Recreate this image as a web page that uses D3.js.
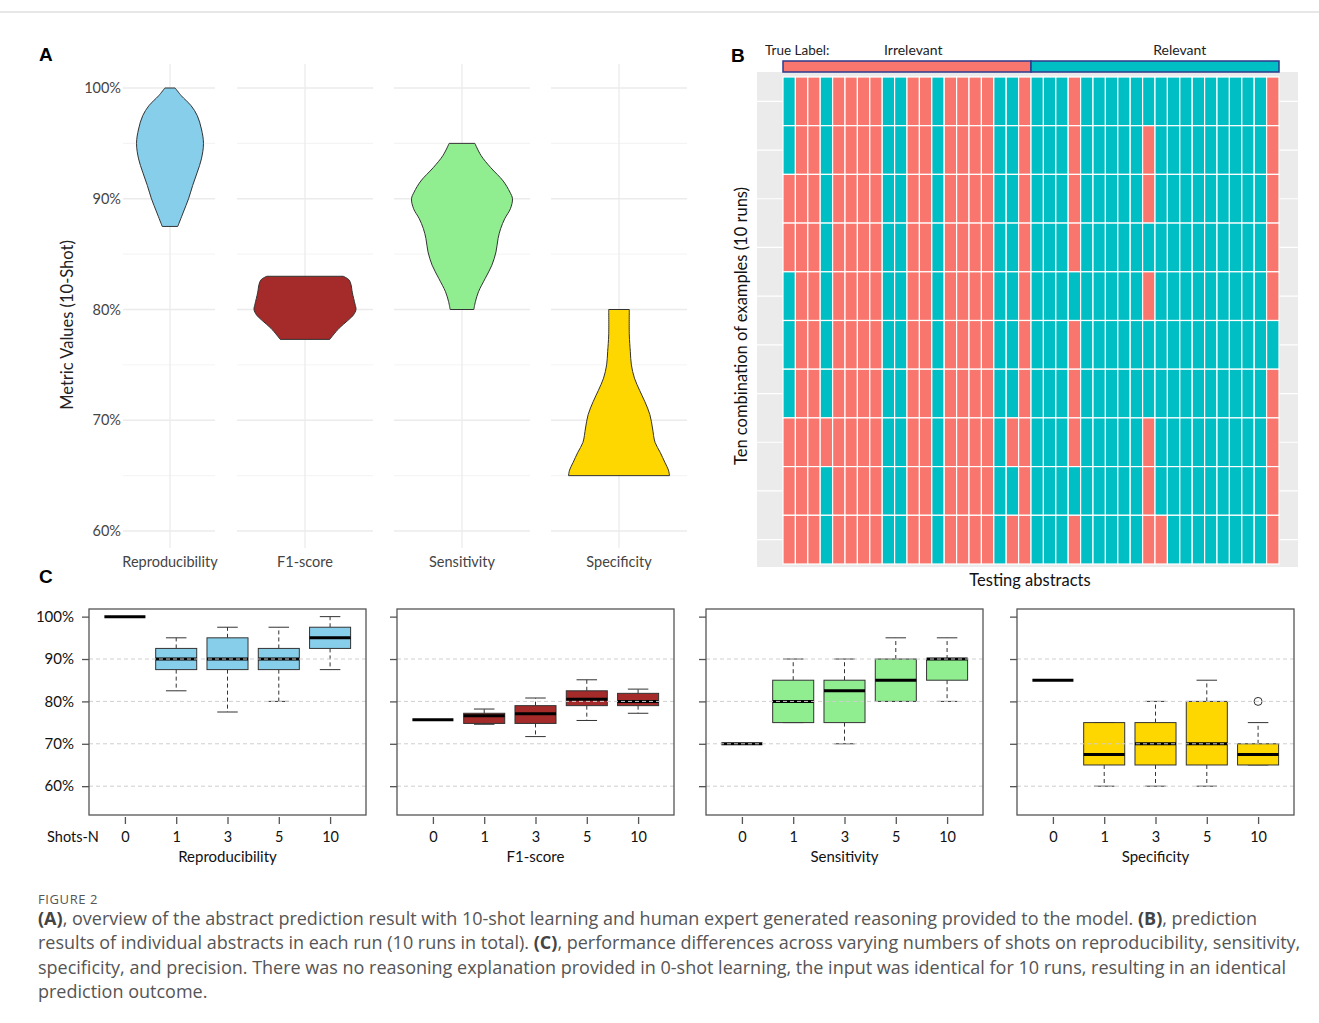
<!DOCTYPE html>
<html>
<head>
<meta charset="utf-8">
<script src="https://cdn.jsdelivr.net/npm/d3@7"></script>
<style>
body { margin: 0; background: #fff; }
svg { display: block; }
</style>
</head>
<body>
<svg width="1319" height="1023"></svg>
<script>
// ---- panel A : violin outlines (metric level, relative density)
var metrics = ["Reproducibility", "F1-score", "Sensitivity", "Specificity"];
var reproLevels = [100, 99.3, 98.4, 97.5, 96.3, 95, 93.6, 92.4, 91.2, 90, 88.8, 87.5];
var reproDensity = [0.10, 0.22, 0.41, 0.53, 0.61, 0.65, 0.61, 0.53, 0.44, 0.36, 0.26, 0.15];
var f1Levels = [83, 82.7, 82.3, 81.5, 80.5, 80, 79.5, 79, 78.3, 77.3];
var f1Density = [0.74, 0.85, 0.89, 0.92, 0.97, 0.99, 0.94, 0.83, 0.66, 0.48];
var sensLevels = [95, 93.9, 92.8, 91.6, 90.6, 90, 89.1, 88.2, 87.3, 86.4, 85.2, 84, 82.8, 81.6, 80.7, 80];
var sensDensity = [0.25, 0.37, 0.56, 0.80, 0.93, 0.98, 0.94, 0.83, 0.75, 0.70, 0.66, 0.58, 0.45, 0.32, 0.26, 0.23];
var specLevels = [80, 77.7, 76.2, 75, 73.8, 72.7, 71.7, 70.5, 69.3, 68, 67.1, 66.2, 65.5, 65];
var specDensity = [0.20, 0.20, 0.22, 0.24, 0.30, 0.40, 0.50, 0.60, 0.65, 0.70, 0.80, 0.89, 0.96, 0.98];
var violinTicks = [60, 70, 80, 90, 100];

// ---- panel B : predicted label per run (rows) and testing abstract (columns), 1 = Relevant
var trueLabels = ["Irrelevant", "Relevant"];
var abstractsPerLabel = [20, 20];
var runPredictions = [
  "1001000011001000011011101111111111111110",
  "1001000011001000011011101111101111111110",
  "0001000011001000011011101111101111111110",
  "0001000011001000011011101111111111111110",
  "1001000011001000011011111111101111111110",
  "1001000011001000011011101111111111111111",
  "1001000011001000011011101111111111111110",
  "0000000011001000010011101111101111111110",
  "0001000011001000011011111111101111111110",
  "0001000011001000010011101111100111111110"
];

// ---- panel C : box statistics per shot count [lower whisker, Q1, median, Q3, upper whisker]
var shots = ["0", "1", "3", "5", "10"];
var reproBox = [[100, 100, 100, 100, 100], [82.5, 87.5, 90, 92.5, 95], [77.5, 87.5, 90, 95, 97.5], [80, 87.5, 90, 92.5, 97.5], [87.5, 92.5, 95, 97.5, 100]];
var f1Box = [[75.7, 75.7, 75.7, 75.7, 75.7], [74.6, 74.8, 76.6, 77.2, 78.2], [71.7, 74.8, 77.1, 79, 80.8], [75.5, 79, 80.5, 82.5, 85.1], [77.2, 79, 80, 81.9, 82.9]];
var sensBox = [[70, 70, 70, 70, 70], [75, 75, 80, 85, 90], [70, 75, 82.5, 85, 90], [80, 80, 85, 90, 95], [80, 85, 90, 90, 95]];
var specBox = [[85, 85, 85, 85, 85], [60, 65, 67.5, 75, 75], [60, 65, 70, 75, 80], [60, 65, 70, 80, 85], [65, 65, 67.5, 70, 75]];
var specOutliers = [["10", 80]];
var boxTicks = [60, 70, 80, 90, 100];
var boxGrid = [60, 70, 80, 90];

var fills = {"Reproducibility": "#87ceeb", "F1-score": "#a52a2a", "Sensitivity": "#90ee90", "Specificity": "#ffd700"};
var labelFont = "Lato, 'Open Sans', sans-serif";

var svg = d3.select("svg");

svg.append("rect").attr("width", 1319).attr("height", 1023).attr("fill", "#fff");
svg.append("line").attr("x1", 0).attr("x2", 1319).attr("y1", 12).attr("y2", 12)
    .attr("stroke", "#d0d0d0");

// ================= panel A =================
var ya = d3.scaleLinear().domain([60, 100]).range([531, 88]);
var xa = d3.scaleOrdinal().domain(metrics).range([170, 305, 462, 619]);
var wa = d3.scaleLinear().domain([0, 1]).range([0, 51.5]);
var facetHalf = 68;

var gA = svg.append("g");

// horizontal grid, one segment per facet
metrics.forEach(function(m, i) {
    var left = i == 0 ? 123 : xa(m) - facetHalf,
        right = xa(m) + facetHalf - (i == 0 ? 23 : 0);
    d3.range(65, 100, 10).forEach(function(v) {
        gA.append("line").attr("x1", left).attr("x2", right)
            .attr("y1", ya(v)).attr("y2", ya(v))
            .attr("stroke", "#f0f0f0").attr("stroke-width", 0.8);
    });
    violinTicks.forEach(function(v) {
        gA.append("line").attr("x1", left).attr("x2", right)
            .attr("y1", ya(v)).attr("y2", ya(v))
            .attr("stroke", "#ebebeb").attr("stroke-width", 1.3);
    });
    gA.append("line").attr("x1", xa(m)).attr("x2", xa(m))
        .attr("y1", 64).attr("y2", 548)
        .attr("stroke", "#ebebeb").attr("stroke-width", 1.3);
});

var violins = [
    {metric: "Reproducibility", levels: reproLevels, density: reproDensity},
    {metric: "F1-score", levels: f1Levels, density: f1Density},
    {metric: "Sensitivity", levels: sensLevels, density: sensDensity},
    {metric: "Specificity", levels: specLevels, density: specDensity}
];

violins.forEach(function(v) {
    var pts = v.levels.map(function(l, i) { return {level: l, d: v.density[i]}; });
    var area = d3.area()
        .y(function(d) { return ya(d.level); })
        .x0(function(d) { return xa(v.metric) - wa(d.d); })
        .x1(function(d) { return xa(v.metric) + wa(d.d); })
        .curve(d3.curveCatmullRom);
    gA.append("path").datum(pts)
        .attr("d", area)
        .attr("fill", fills[v.metric])
        .attr("stroke", "#333")
        .attr("stroke-width", 1);
});

var axA = gA.append("g")
    .attr("transform", "translate(121,0)")
    .call(d3.axisLeft(ya).tickValues(violinTicks).tickSize(0).tickPadding(0)
        .tickFormat(function(d) { return d + "%"; }));
axA.select(".domain").remove();
axA.selectAll("text").style("font-family", labelFont).style("font-size", "14.5px").attr("fill", "#444");

gA.selectAll(".xlabA")
    .data(metrics)
    .enter().append("text")
        .attr("x", function(d) { return xa(d); })
        .attr("y", 567)
        .attr("text-anchor", "middle")
        .style("font-family", labelFont).style("font-size", "14.5px")
        .attr("fill", "#444")
        .text(function(d) { return d; });

gA.append("text")
    .attr("transform", "translate(73,325) rotate(-90)")
    .attr("text-anchor", "middle")
    .style("font-family", labelFont).style("font-size", "16.5px")
    .attr("fill", "#222")
    .text("Metric Values (10-Shot)");

svg.append("text").attr("x", 39).attr("y", 61)
    .style("font-family", "Liberation Sans, Arial, sans-serif").style("font-size", "19px")
    .style("font-weight", "bold").text("A");

// ================= panel B =================
var nCols = d3.sum(abstractsPerLabel);
var xb = d3.scaleBand().domain(d3.range(nCols)).range([783, 1279]);
var yb = d3.scaleBand().domain(d3.range(runPredictions.length)).range([77, 564]);
var predColor = d3.scaleOrdinal().domain(["0", "1"]).range(["#f8766d", "#00bfc4"]);

var gB = svg.append("g");
gB.append("rect").attr("x", 757).attr("y", 72).attr("width", 541).attr("height", 495)
    .attr("fill", "#ebebeb");
runPredictions.forEach(function(r, i) {
    gB.append("line").attr("x1", 757).attr("x2", 1298)
        .attr("y1", yb(i) + yb.bandwidth() / 2).attr("y2", yb(i) + yb.bandwidth() / 2)
        .attr("stroke", "#fff").attr("stroke-width", 1.2);
});

runPredictions.forEach(function(r, i) {
    gB.selectAll(".row" + i)
        .data(r.split(""))
        .enter().append("rect")
            .attr("x", function(d, j) { return xb(j); })
            .attr("y", yb(i))
            .attr("width", xb.bandwidth())
            .attr("height", yb.bandwidth())
            .attr("fill", function(d) { return predColor(d); })
            .attr("stroke", "#fff")
            .attr("stroke-width", 1.2);
});

// true label strip
var start = 0;
trueLabels.forEach(function(lab, i) {
    var x0 = xb(start), x1 = xb(start + abstractsPerLabel[i] - 1) + xb.bandwidth();
    gB.append("rect").attr("x", x0).attr("y", 61).attr("width", x1 - x0).attr("height", 11)
        .attr("fill", predColor(String(i)))
        .attr("stroke", "#2e3a8c").attr("stroke-width", 1.5);
    start += abstractsPerLabel[i];
});
gB.append("text").attr("x", 765).attr("y", 55)
    .style("font-family", labelFont).style("font-size", "13.5px").attr("fill", "#222")
    .text("True Label:");
gB.append("text").attr("x", xb(10) + xb.bandwidth() / 2).attr("y", 55)
    .attr("text-anchor", "middle")
    .style("font-family", labelFont).style("font-size", "14px").attr("fill", "#222")
    .text(trueLabels[0]);
gB.append("text").attr("x", xb(31) + xb.bandwidth()).attr("y", 55)
    .attr("text-anchor", "middle")
    .style("font-family", labelFont).style("font-size", "14px").attr("fill", "#222")
    .text(trueLabels[1]);

gB.append("text")
    .attr("transform", "translate(747,326) rotate(-90)")
    .attr("text-anchor", "middle")
    .style("font-family", labelFont).style("font-size", "16.5px").attr("fill", "#111")
    .text("Ten combination of examples (10 runs)");
gB.append("text").attr("x", 1030).attr("y", 586)
    .attr("text-anchor", "middle")
    .style("font-family", labelFont).style("font-size", "16.5px").attr("fill", "#111")
    .text("Testing abstracts");

svg.append("text").attr("x", 731).attr("y", 62)
    .style("font-family", "Liberation Sans, Arial, sans-serif").style("font-size", "19px")
    .style("font-weight", "bold").text("B");

// ================= panel C =================
svg.append("text").attr("x", 39).attr("y", 583)
    .style("font-family", "Liberation Sans, Arial, sans-serif").style("font-size", "19px")
    .style("font-weight", "bold").text("C");

var boxPanels = [
    {metric: "Reproducibility", stats: reproBox, outliers: [], left: 89},
    {metric: "F1-score", stats: f1Box, outliers: [], left: 397},
    {metric: "Sensitivity", stats: sensBox, outliers: [], left: 706},
    {metric: "Specificity", stats: specBox, outliers: specOutliers, left: 1017}
];
var panelW = 277, panelTop = 609, panelBottom = 815;
var yc = d3.scaleLinear().domain([53.2, 101.8]).range([panelBottom, panelTop]);

boxPanels.forEach(function(p, pi) {
    var g = svg.append("g").attr("transform", "translate(" + p.left + ",0)");
    var xc = d3.scalePoint().domain(shots).range([0, panelW]).padding(0.7);
    var bw = 0.8 * xc.step(), cap = bw / 2;

    p.stats.forEach(function(s, i) {
        var cx = xc(shots[i]);
        var col = fills[p.metric];
        if (s[0] != s[4]) {
            // whiskers
            g.append("line").attr("x1", cx).attr("x2", cx).attr("y1", yc(s[3])).attr("y2", yc(s[4]))
                .attr("stroke", "#333").attr("stroke-dasharray", "4,3");
            g.append("line").attr("x1", cx).attr("x2", cx).attr("y1", yc(s[1])).attr("y2", yc(s[0]))
                .attr("stroke", "#333").attr("stroke-dasharray", "4,3");
            [s[0], s[4]].forEach(function(v) {
                g.append("line").attr("x1", cx - cap / 2).attr("x2", cx + cap / 2)
                    .attr("y1", yc(v)).attr("y2", yc(v)).attr("stroke", "#333");
            });
            g.append("rect").attr("x", cx - bw / 2).attr("y", yc(s[3]))
                .attr("width", bw).attr("height", yc(s[1]) - yc(s[3]))
                .attr("fill", col).attr("stroke", "#333").attr("stroke-width", 1);
        }
        g.append("line").attr("x1", cx - bw / 2).attr("x2", cx + bw / 2)
            .attr("y1", yc(s[2])).attr("y2", yc(s[2]))
            .attr("stroke", "#000").attr("stroke-width", 3);
    });

    p.outliers.forEach(function(o) {
        g.append("circle").attr("cx", xc(o[0])).attr("cy", yc(o[1])).attr("r", 4)
            .attr("fill", "none").attr("stroke", "#333");
    });

    // dashed reference lines drawn over the boxes
    boxGrid.forEach(function(v) {
        g.append("line").attr("x1", 0).attr("x2", panelW).attr("y1", yc(v)).attr("y2", yc(v))
            .attr("stroke", "#cfcfcf").attr("stroke-dasharray", "4,3");
    });

    g.append("rect").attr("x", 0).attr("y", panelTop).attr("width", panelW)
        .attr("height", panelBottom - panelTop)
        .attr("fill", "none").attr("stroke", "#555").attr("stroke-width", 1.3);

    var ay = g.append("g").call(d3.axisLeft(yc).tickValues(boxTicks).tickSize(7).tickPadding(8)
        .tickFormat(function(d) { return pi == 0 ? d + "%" : ""; }));
    ay.select(".domain").remove();
    ay.selectAll("line").attr("stroke", "#555").attr("stroke-width", 1.3);
    ay.selectAll("text").style("font-family", labelFont).style("font-size", "15px").attr("fill", "#111");

    var ax = g.append("g").attr("transform", "translate(0," + (panelBottom + 2) + ")")
        .call(d3.axisBottom(xc).tickSize(7).tickPadding(8));
    ax.select(".domain").remove();
    ax.selectAll("line").attr("stroke", "#555").attr("stroke-width", 1.3);
    ax.selectAll("text").style("font-family", labelFont).style("font-size", "14.5px").attr("fill", "#111");

    g.append("text").attr("x", panelW / 2).attr("y", 862)
        .attr("text-anchor", "middle")
        .style("font-family", labelFont).style("font-size", "15px").attr("fill", "#111")
        .text(p.metric);

    if (pi == 0) {
        g.append("text").attr("x", -16).attr("y", 842)
            .attr("text-anchor", "middle")
            .style("font-family", labelFont).style("font-size", "14.5px").attr("fill", "#111")
            .text("Shots-N");
    }
});

// ================= caption =================
var captionLines = [
    [["(A)", true], [", overview of the abstract prediction result with 10-shot learning and human expert generated reasoning provided to the model. ", false], ["(B)", true], [", prediction", false]],
    [["results of individual abstracts in each run (10 runs in total). ", false], ["(C)", true], [", performance differences across varying numbers of shots on reproducibility, sensitivity,", false]],
    [["specificity, and precision. There was no reasoning explanation provided in 0-shot learning, the input was identical for 10 runs, resulting in an identical", false]],
    [["prediction outcome.", false]]
];

svg.append("text").attr("x", 38).attr("y", 904)
    .style("font-family", "'Open Sans', sans-serif").style("font-size", "13px")
    .style("letter-spacing", "0.6px")
    .attr("fill", "#555").text("FIGURE 2");

captionLines.forEach(function(line, i) {
    var t = svg.append("text").attr("x", 38).attr("y", 925 + i * 24.3)
        .style("font-family", "'Open Sans', sans-serif").style("font-size", "18px")
        .attr("fill", "#555");
    line.forEach(function(part) {
        t.append("tspan").text(part[0])
            .style("font-weight", part[1] ? "bold" : "normal")
            .attr("fill", part[1] ? "#444" : "#555");
    });
});
</script>
</body>
</html>
